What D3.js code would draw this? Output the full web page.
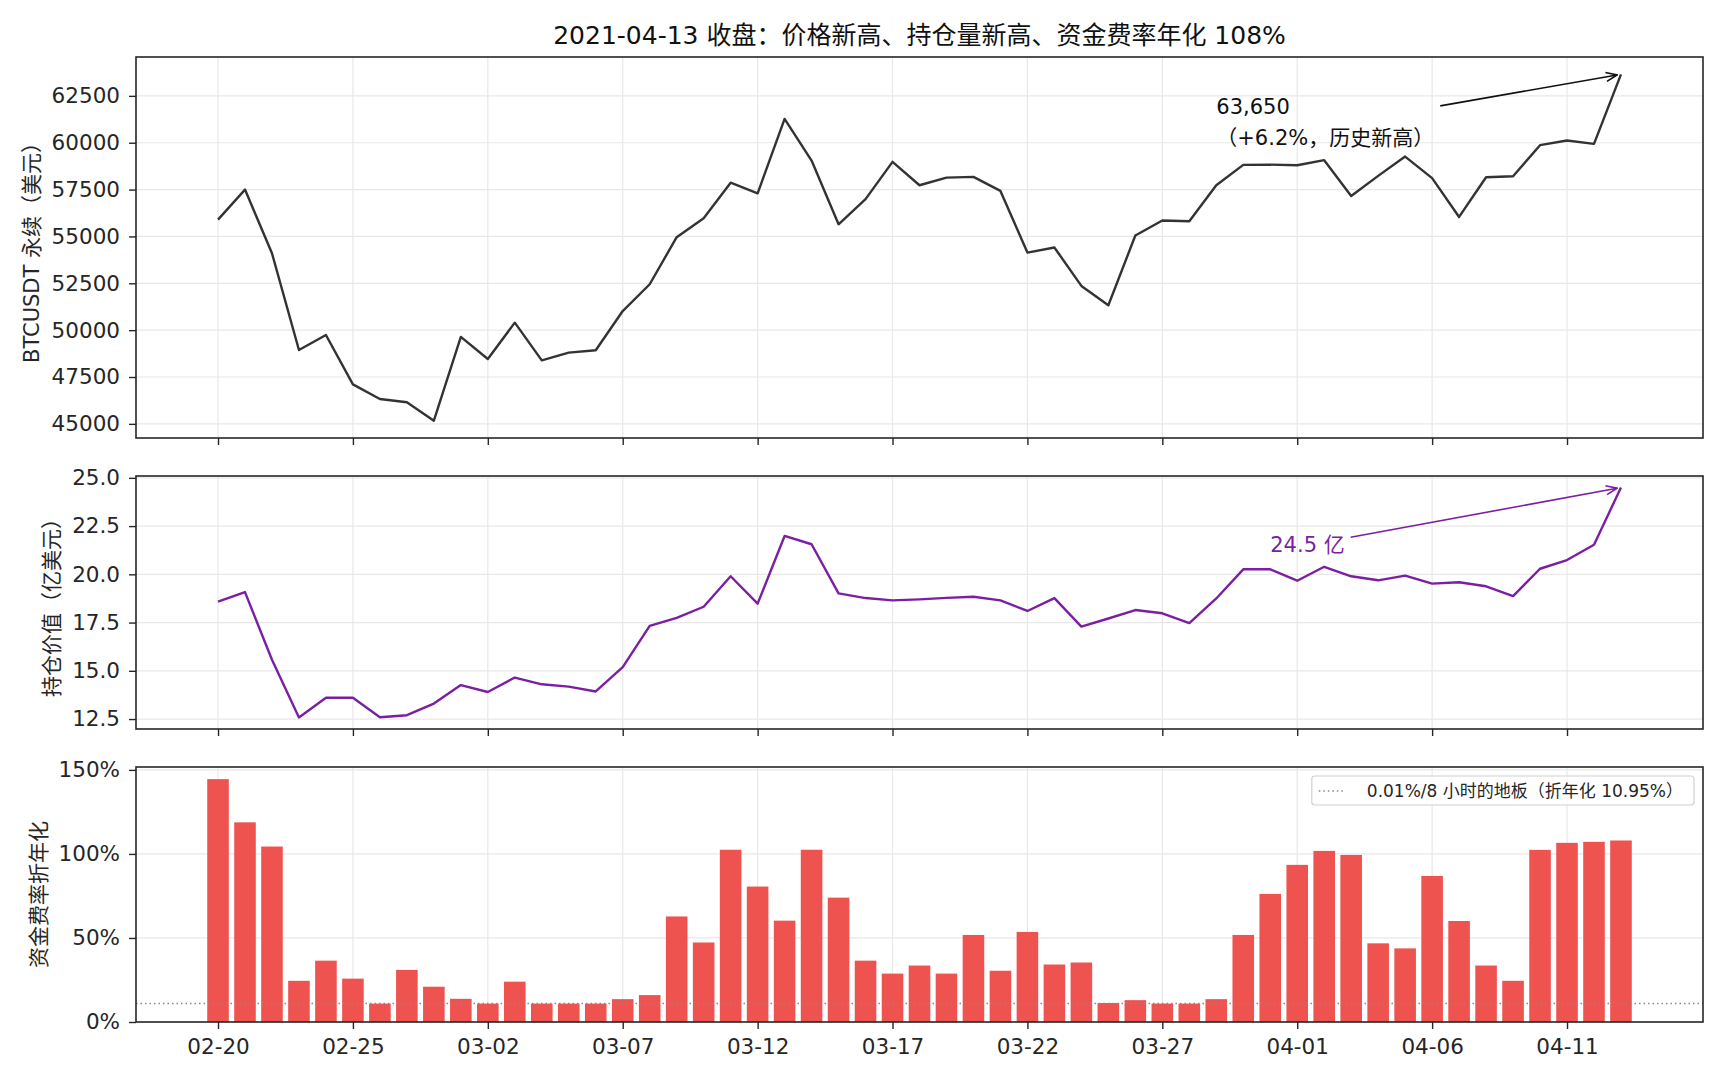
<!DOCTYPE html>
<html>
<head>
<meta charset="utf-8">
<script src="https://cdn.jsdelivr.net/npm/d3@7"></script>
<style>
  body { margin: 0; background: #fff; }
  svg text { font-family: "DejaVu Sans", "Noto Sans CJK SC", sans-serif; }
</style>
</head>
<body>
<div id="chart"></div>
<script>
// Data
const dates = [
    '02-20', '02-21', '02-22', '02-23', '02-24', '02-25', '02-26', '02-27', '02-28',
    '03-01', '03-02', '03-03', '03-04', '03-05', '03-06', '03-07', '03-08', '03-09', '03-10',
    '03-11', '03-12', '03-13', '03-14', '03-15', '03-16', '03-17', '03-18', '03-19', '03-20',
    '03-21', '03-22', '03-23', '03-24', '03-25', '03-26', '03-27', '03-28', '03-29', '03-30',
    '03-31', '04-01', '04-02', '04-03', '04-04', '04-05', '04-06', '04-07', '04-08', '04-09',
    '04-10', '04-11', '04-12', '04-13'
];

// BTCUSDT perpetual close, USD
const price = [
    55900, 57500, 54100, 48940, 49740, 47110, 46330, 46150, 45170,
    49640, 48460, 50400, 48390, 48800, 48930, 51020, 52450, 54960, 55970,
    57870, 57300, 61270, 59050, 55650, 56990, 58980, 57730, 58140, 58180,
    57430, 54140, 54410, 52360, 51330, 55050, 55850, 55810, 57730, 58820,
    58830, 58800, 59070, 57160, 58230, 59260, 58110, 56040, 58160, 58210,
    59870, 60120, 59940, 63650
];

// open interest value, 亿美元
const openInterest = [
    18.58, 19.08, 15.57, 12.58, 13.60, 13.60, 12.59, 12.70, 13.30,
    14.26, 13.90, 14.65, 14.30, 14.18, 13.93, 15.19, 17.33, 17.74, 18.32,
    19.90, 18.48, 21.99, 21.56, 19.01, 18.77, 18.65, 18.70, 18.78, 18.84,
    18.65, 18.10, 18.77, 17.29, 17.71, 18.15, 17.98, 17.47, 18.75, 20.26,
    20.26, 19.67, 20.39, 19.90, 19.69, 19.93, 19.52, 19.59, 19.38, 18.87,
    20.29, 20.74, 21.53, 24.50
];

// funding rate, annualised %
const fundingAnnual = [
    144.5, 118.8, 104.4, 24.5, 36.5, 25.8, 10.95, 31.0, 21.0,
    13.8, 10.95, 24.0, 10.95, 10.95, 10.95, 13.6, 16.0, 62.8, 47.3,
    102.5, 80.6, 60.3, 102.5, 74.0, 36.5, 28.8, 33.6, 28.8, 51.8,
    30.5, 53.6, 34.2, 35.4, 11.3, 13.0, 10.95, 10.95, 13.6, 51.8,
    76.2, 93.5, 101.8, 99.4, 46.8, 43.8, 86.9, 60.1, 33.6, 24.5,
    102.4, 106.6, 107.2, 108.0
];

const floorRate = 10.95;

const xTickLabels = ['02-20', '02-25', '03-02', '03-07', '03-12', '03-17', '03-22', '03-27', '04-01', '04-06', '04-11'];
const priceTicks = [45000, 47500, 50000, 52500, 55000, 57500, 60000, 62500];
const oiTicks = [12.5, 15.0, 17.5, 20.0, 22.5, 25.0];
const fundingTicks = [0, 50, 100, 150];

const titleText = '2021-04-13 收盘：价格新高、持仓量新高、资金费率年化 108%';
const priceLabel = 'BTCUSDT 永续（美元）';
const oiLabel = '持仓价值（亿美元）';
const fundingLabel = '资金费率折年化';
const priceNote = ['63,650', '（+6.2%，历史新高）'];
const oiNote = '24.5 亿';
const legendText = '0.01%/8 小时的地板（折年化 10.95%）';

// Layout
const W = 1725, H = 1080;
const left = 136, right = 1703;
const panels = {
    price:   {top: 57,  bottom: 438},
    oi:      {top: 476, bottom: 729},
    funding: {top: 767, bottom: 1022}
};
const ink = '#262626';
const gridColor = '#e8e8e8';
const purple = '#7b1fa2';
const barColor = '#ef5350';
const tickFont = '21.5px';

const svg = d3.select('#chart')
    .append('svg')
    .attr('width', W)
    .attr('height', H);

// shared x: day index, matplotlib-style 5% margin around the bars
const n = dates.length;
const span = (n - 1) + 0.8;
const x = d3.scaleLinear()
    .domain([-0.4 - span * 0.05, n - 1 + 0.4 + span * 0.05])
    .range([left, right]);
const xTickIdx = xTickLabels.map(l => dates.indexOf(l));

function padDomain(vals) {
    const [lo, hi] = d3.extent(vals);
    const m = (hi - lo) * 0.05;
    return [lo - m, hi + m];
}

const yPrice = d3.scaleLinear().domain(padDomain(price)).range([panels.price.bottom, panels.price.top]);
const yOi = d3.scaleLinear().domain(padDomain(openInterest)).range([panels.oi.bottom, panels.oi.top]);
const yFund = d3.scaleLinear().domain([0, d3.max(fundingAnnual) * 1.05]).range([panels.funding.bottom, panels.funding.top]);

// markers for annotation arrows
const defs = svg.append('defs');
function addArrow(id, color) {
    defs.append('marker')
        .attr('id', id)
        .attr('markerUnits', 'userSpaceOnUse')
        .attr('viewBox', '-1 -6 13 12')
        .attr('markerWidth', 13)
        .attr('markerHeight', 12)
        .attr('refX', 11)
        .attr('refY', 0)
        .attr('orient', 'auto')
        .append('path')
        .attr('d', 'M0,-4.5 L11,0 L0,4.5')
        .attr('fill', 'none')
        .attr('stroke', color)
        .attr('stroke-width', 1.6);
}
addArrow('arrow-black', '#111');
addArrow('arrow-purple', purple);

// grid, ticks, frame for one panel
function drawFrame(p, y, ticks, fmt, showX) {
    const g = svg.append('g');

    g.selectAll('.vgrid')
        .data(xTickIdx)
        .enter()
        .append('line')
        .attr('x1', d => x(d)).attr('x2', d => x(d))
        .attr('y1', p.top).attr('y2', p.bottom)
        .attr('stroke', gridColor)
        .attr('stroke-width', 1.2);

    g.selectAll('.hgrid')
        .data(ticks)
        .enter()
        .append('line')
        .attr('x1', left).attr('x2', right)
        .attr('y1', d => y(d)).attr('y2', d => y(d))
        .attr('stroke', gridColor)
        .attr('stroke-width', 1.2);

    const yAxis = svg.append('g')
        .attr('transform', `translate(${left},0)`)
        .call(d3.axisLeft(y).tickValues(ticks).tickSize(7).tickPadding(9).tickFormat(fmt));
    yAxis.select('.domain').remove();
    yAxis.selectAll('line').attr('stroke', ink).attr('stroke-width', 1.4);
    yAxis.selectAll('text').attr('fill', ink).style('font-size', tickFont);

    const xAxis = svg.append('g')
        .attr('transform', `translate(0,${p.bottom})`)
        .call(d3.axisBottom(x).tickValues(xTickIdx).tickSize(7).tickPadding(10)
            .tickFormat(showX ? (d => dates[d]) : () => ''));
    xAxis.select('.domain').remove();
    xAxis.selectAll('line').attr('stroke', ink).attr('stroke-width', 1.4);
    xAxis.selectAll('text').attr('fill', ink).style('font-size', tickFont);

    return yAxis;
}

function drawSpines(p) {
    svg.append('rect')
        .attr('x', left).attr('y', p.top)
        .attr('width', right - left).attr('height', p.bottom - p.top)
        .attr('fill', 'none')
        .attr('stroke', ink)
        .attr('stroke-width', 1.6);
}

function drawYLabel(p, axisG, text) {
    let maxLen = 0;
    axisG.selectAll('text').each(function() {
        maxLen = Math.max(maxLen, this.getComputedTextLength());
    });
    const xPos = left - 16 - maxLen - 13;
    svg.append('text')
        .attr('transform', `translate(${xPos},${(p.top + p.bottom) / 2}) rotate(-90)`)
        .attr('text-anchor', 'middle')
        .attr('fill', ink)
        .style('font-size', '21px')
        .text(text);
}

// Panel 1: price
const ax1 = drawFrame(panels.price, yPrice, priceTicks, d => d, false);
svg.append('path')
    .datum(price)
    .attr('fill', 'none')
    .attr('stroke', '#333')
    .attr('stroke-width', 2.4)
    .attr('stroke-linejoin', 'round')
    .attr('d', d3.line().x((d, i) => x(i)).y(d => yPrice(d)));
drawSpines(panels.price);
drawYLabel(panels.price, ax1, priceLabel);

// Panel 2: open interest
const ax2 = drawFrame(panels.oi, yOi, oiTicks, d => d.toFixed(1), false);
svg.append('path')
    .datum(openInterest)
    .attr('fill', 'none')
    .attr('stroke', purple)
    .attr('stroke-width', 2.4)
    .attr('stroke-linejoin', 'round')
    .attr('d', d3.line().x((d, i) => x(i)).y(d => yOi(d)));
drawSpines(panels.oi);
drawYLabel(panels.oi, ax2, oiLabel);

// Panel 3: funding rate bars
const ax3 = drawFrame(panels.funding, yFund, fundingTicks, d => d + '%', true);
svg.append('g')
    .selectAll('rect')
    .data(fundingAnnual)
    .enter()
    .append('rect')
    .attr('x', (d, i) => x(i - 0.4))
    .attr('width', (d, i) => x(i + 0.4) - x(i - 0.4))
    .attr('y', d => yFund(d))
    .attr('height', d => yFund(0) - yFund(d))
    .attr('fill', barColor);

svg.append('line')
    .attr('x1', left).attr('x2', right)
    .attr('y1', yFund(floorRate)).attr('y2', yFund(floorRate))
    .attr('stroke', '#888')
    .attr('stroke-width', 1.5)
    .attr('stroke-dasharray', '1.5,3');
drawSpines(panels.funding);
drawYLabel(panels.funding, ax3, fundingLabel);

// legend
const leg = svg.append('g');
const legBox = leg.append('rect');
const legLabel = leg.append('text')
    .attr('text-anchor', 'end')
    .attr('x', right - 20)
    .attr('y', 797)
    .attr('fill', ink)
    .style('font-size', '17px')
    .text(legendText);
const legLen = legLabel.node().getComputedTextLength();
const legTextLeft = right - 20 - legLen;
leg.append('line')
    .attr('x1', legTextLeft - 48).attr('x2', legTextLeft - 22)
    .attr('y1', 791).attr('y2', 791)
    .attr('stroke', '#888')
    .attr('stroke-width', 1.5)
    .attr('stroke-dasharray', '1.5,3');
legBox
    .attr('x', legTextLeft - 55).attr('y', 776)
    .attr('width', (right - 9) - (legTextLeft - 55)).attr('height', 29)
    .attr('rx', 3)
    .attr('fill', 'rgba(255,255,255,0.8)')
    .attr('stroke', '#d0d0d0')
    .attr('stroke-width', 1.2);

// annotations: text anchored at a data point, arrow from text box to the last value
function annotate(lines, ax, ay, tx, ty, color, marker) {
    const g = svg.append('g');
    const t = g.append('text')
        .attr('fill', color)
        .style('font-size', '21px');
    lines.forEach((l, i) => {
        t.append('tspan')
            .attr('x', ax)
            .attr('y', ay - (lines.length - 1 - i) * 31)
            .text(l);
    });
    const bb = t.node().getBBox();
    // start where the anchor->target line leaves the text box
    const bx = bb.x + bb.width + 6;
    const k = (ty - ay) / (tx - ax);
    const sx = bx;
    const sy = ay + k * (bx - ax);
    const dx = tx - sx, dy = ty - sy;
    const len = Math.hypot(dx, dy);
    const shrink = 4;
    g.append('line')
        .attr('x1', sx).attr('y1', sy)
        .attr('x2', tx - dx / len * shrink).attr('y2', ty - dy / len * shrink)
        .attr('stroke', color)
        .attr('stroke-width', 1.6)
        .attr('marker-end', `url(#${marker})`);
}

const last = n - 1;
annotate(priceNote, x(37), yPrice(59880), x(last), yPrice(price[last]), '#111', 'arrow-black');
annotate([oiNote], x(39), yOi(21.15), x(last), yOi(openInterest[last]), purple, 'arrow-purple');

// title
svg.append('text')
    .attr('x', (left + right) / 2)
    .attr('y', 44)
    .attr('text-anchor', 'middle')
    .attr('fill', '#111')
    .style('font-size', '25px')
    .text(titleText);
</script>
</body>
</html>
